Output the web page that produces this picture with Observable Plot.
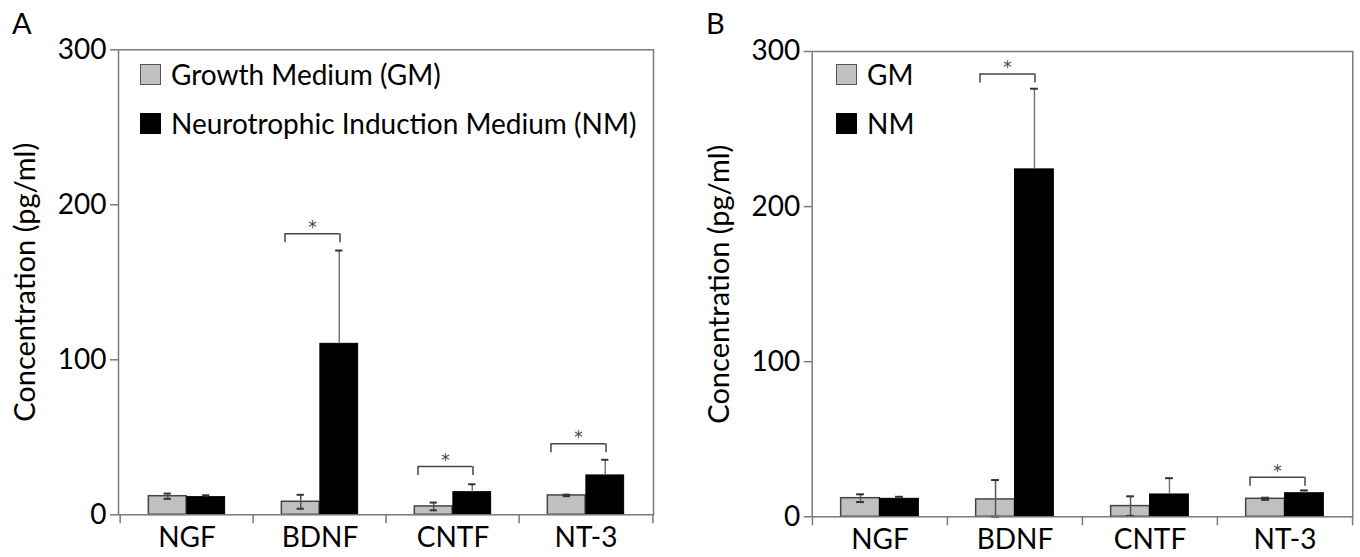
<!DOCTYPE html>
<html>
<head>
<meta charset="utf-8">
<script src="https://cdn.jsdelivr.net/npm/d3@7"></script>
<script src="https://cdn.jsdelivr.net/npm/@observablehq/plot@0.6"></script>
<style>
  html, body { margin: 0; padding: 0; background: #fff; }
  #wrap { position: relative; width: 1360px; height: 557px; font-family: Lato, sans-serif; color: #000; overflow: hidden; }
  .panel { position: absolute; top: 0; width: 680px; height: 557px; }
  .plabel { position: absolute; font-size: 29px; line-height: 1; }
  .legend { position: absolute; font-size: 28px; line-height: 1; }
  .legend .row { position: absolute; display: flex; align-items: center; white-space: nowrap; }
  .legend .sw { width: 21px; height: 21px; box-sizing: border-box; margin-right: 10px; }
</style>
</head>
<body>
<div id="wrap">
  <div class="panel" id="pa" style="left:0"></div>
  <div class="panel" id="pb" style="left:680px"></div>
  <div class="plabel" style="left:12px; top:8px">A</div>
  <div class="plabel" style="left:706px; top:8px">B</div>
  <div class="legend" id="legA" style="left:140px; top:0"></div>
  <div class="legend" id="legB" style="left:836px; top:0"></div>
</div>
<script>
const categories = ["NGF", "BDNF", "CNTF", "NT-3"];

// Panel A
const gmA = [12.0, 8.4, 5.4, 12.5];
const gmAErr = [1.7, 4.5, 2.5, 0.5];
const nmA = [11.4, 110.3, 14.6, 25.4];
const nmAErr = [1.2, 60.2, 5.1, 10.1];
const sigCatsA = ["BDNF", "CNTF", "NT-3"];
const sigYA = [181.3, 31.2, 45.8];

// Panel B
const gmB = [12.0, 11.2, 6.9, 11.6];
const gmBErr = [2.5, 12.5, 6.3, 0.7];
const nmB = [11.6, 224.0, 14.4, 15.2];
const nmBErr = [1.3, 52.0, 10.5, 1.8];
const sigCatsB = ["BDNF", "NT-3"];
const sigYB = [285.5, 25.5];

const yTicks = [0, 100, 200, 300];
const yLabel = "Concentration (pg/ml)";
const legendA = ["Growth Medium (GM)", "Neurotrophic Induction Medium (NM)"];
const legendB = ["GM", "NM"];

const FONT = 'Lato, sans-serif';
const GRAY = "#c0c0c0";
const LINE = "#7a7a7a";

function panel(gm, gmErr, nm, nmErr, sigCats, sigY, m) {
  const W = 680, H = 557;
  const bw = (W - m.left - m.right) / categories.length;
  const barW = 0.288 * bw;
  const outer = (bw - 2 * barW) / 2;
  const plotH = H - m.top - m.bottom;
  const u = 300 / plotH; // data units per pixel
  const gmRows = categories.map((c, i) => ({cat: c, value: gm[i], err: gmErr[i]}));
  const nmRows = categories.map((c, i) => ({cat: c, value: nm[i], err: nmErr[i]}));
  const sig = sigCats.map((c, i) => ({cat: c, y: sigY[i]}));
  const capInset = bw / 2 - 4;
  return Plot.plot({
    width: W, height: H,
    marginLeft: m.left, marginRight: m.right, marginTop: m.top, marginBottom: m.bottom,
    x: {domain: categories, padding: 0, axis: null},
    y: {domain: [0, 300], axis: null},
    style: {fontFamily: FONT, fontSize: "28px", background: "white", color: "black", overflow: "visible"},
    marks: [
      Plot.barY(gmRows, {x: "cat", y: "value", fill: GRAY, stroke: "#444", strokeWidth: 1.5,
        insetLeft: outer, insetRight: bw - outer - barW}),
      Plot.barY(nmRows, {x: "cat", y: "value", fill: "#000", stroke: "#000",
        insetLeft: bw - outer - barW, insetRight: outer}),
      // error bars GM
      Plot.ruleX(gmRows, {x: "cat", y1: d => Math.max(0, d.value - d.err), y2: d => d.value + d.err,
        dx: -barW / 2, stroke: "#555", strokeWidth: 1.5}),
      Plot.tickY(gmRows, {x: "cat", y: d => d.value + d.err, dx: -barW / 2, inset: capInset, stroke: "#333", strokeWidth: 2}),
      Plot.tickY(gmRows, {x: "cat", y: d => Math.max(0, d.value - d.err), dx: -barW / 2, inset: capInset, stroke: "#333", strokeWidth: 2}),
      // error bars NM
      Plot.ruleX(nmRows, {x: "cat", y1: "value", y2: d => d.value + d.err,
        dx: barW / 2, stroke: "#777", strokeWidth: 1.5}),
      Plot.tickY(nmRows, {x: "cat", y: d => d.value + d.err, dx: barW / 2, inset: capInset, stroke: "#333", strokeWidth: 2}),
      // significance brackets
      Plot.tickY(sig, {x: "cat", y: "y", insetLeft: bw / 2 - 35, insetRight: bw / 2 - 20, stroke: "#444", strokeWidth: 1.5}),
      Plot.ruleX(sig, {x: "cat", y1: "y", y2: d => d.y - 9 * u, dx: -35, stroke: "#444", strokeWidth: 1.5}),
      Plot.ruleX(sig, {x: "cat", y1: "y", y2: d => d.y - 9 * u, dx: 20, stroke: "#444", strokeWidth: 1.5}),
      Plot.text(sig, {x: "cat", y: "y", text: () => "*", dx: -7.5, dy: -6, fontSize: 17,
        fontFamily: "DejaVu Sans", fill: "#444", lineAnchor: "middle"}),
      // frame and axes
      Plot.frame({stroke: LINE, strokeWidth: 1.5}),
      Plot.ruleX(categories, {x: d => d, dx: -bw / 2, y1: 0, y2: -9 * u, stroke: LINE, strokeWidth: 1.5}),
      Plot.ruleX(categories.slice(-1), {x: d => d, dx: bw / 2, y1: 0, y2: -9 * u, stroke: LINE, strokeWidth: 1.5}),
      Plot.axisY({ticks: yTicks, tickSize: 8, tickPadding: 4, stroke: LINE, strokeWidth: 1.5, fill: "#000", fontSize: 28,
        label: null}),
      Plot.axisY({ticks: [], tickSize: 0, fontSize: 29, fill: "#000",
        label: yLabel, labelAnchor: "center", labelOffset: m.labelOffset, labelArrow: "none"}),
      Plot.axisX({tickSize: 0, tickPadding: 12, fontSize: 28, fill: "#000", label: null})
    ]
  });
}

document.getElementById("pa").append(
  panel(gmA, gmAErr, nmA, nmAErr, sigCatsA, sigYA, {left: 118, right: 27, top: 49.3, bottom: 42.7, labelOffset: 104})
);
document.getElementById("pb").append(
  panel(gmB, gmBErr, nmB, nmBErr, sigCatsB, sigYB, {left: 131.7, right: 7.7, top: 51, bottom: 40.7, labelOffset: 104})
);

function legend(id, labels, tops) {
  const el = document.getElementById(id);
  labels.forEach((t, i) => {
    const row = document.createElement("div");
    row.className = "row";
    row.style.top = tops[i] + "px";
    const sw = document.createElement("div");
    sw.className = "sw";
    sw.style.background = i === 0 ? GRAY : "#000";
    sw.style.border = i === 0 ? "1.5px solid #555" : "1.5px solid #000";
    const tx = document.createElement("span");
    tx.textContent = t;
    row.append(sw, tx);
    el.append(row);
  });
}
legend("legA", legendA, [60, 109]);
legend("legB", legendB, [60, 109]);
</script>
</body>
</html>
